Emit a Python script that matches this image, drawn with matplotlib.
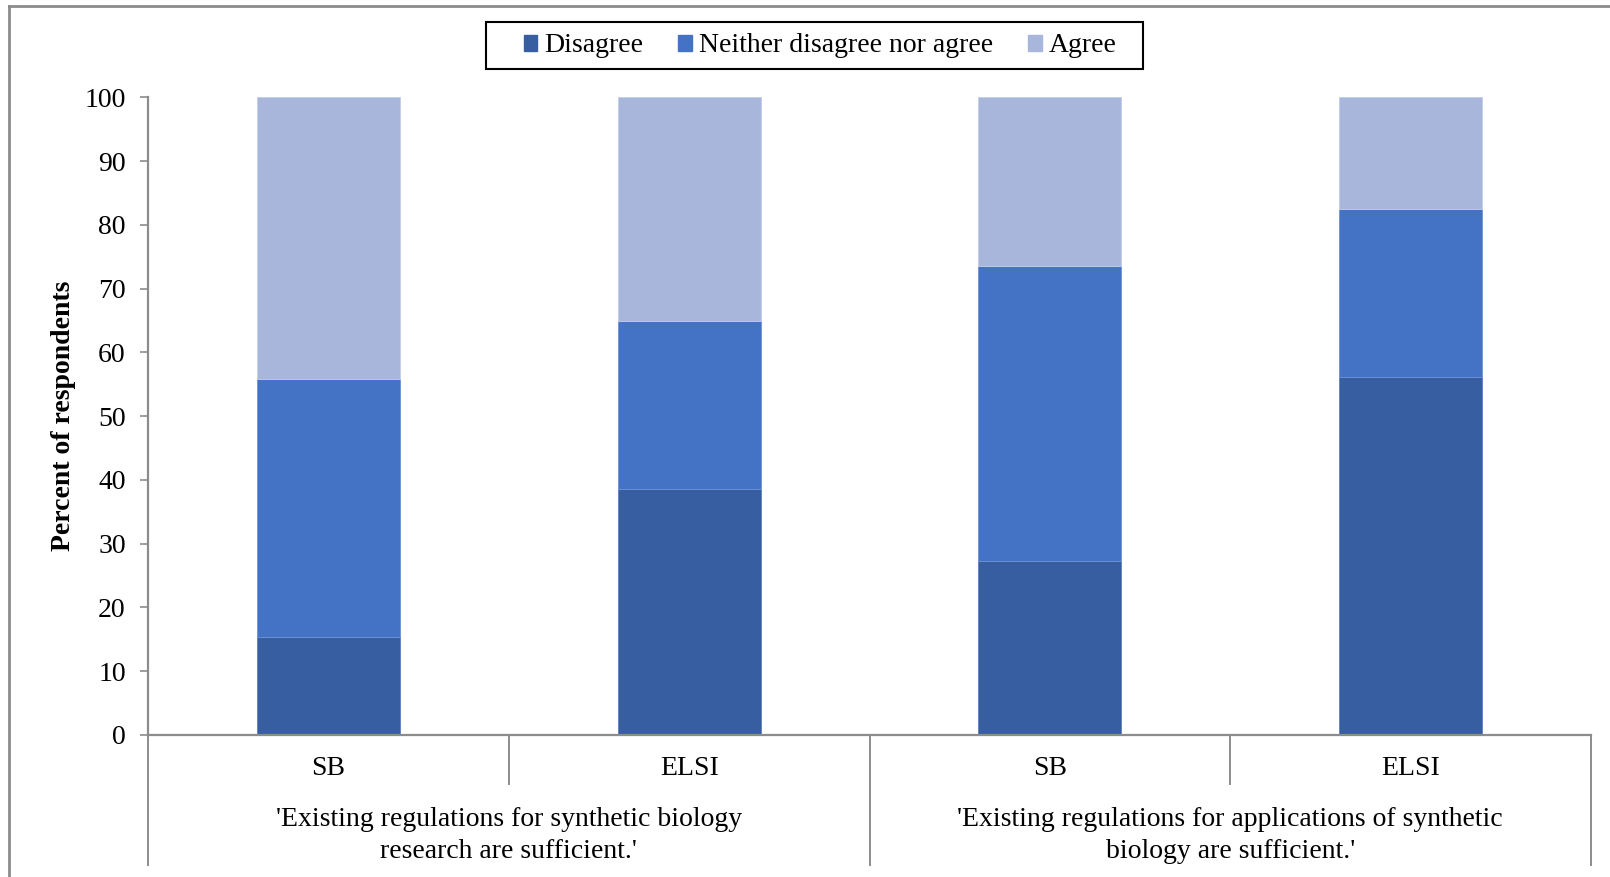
import matplotlib.pyplot as plt
from matplotlib.lines import Line2D
from matplotlib.patches import Patch, Rectangle
import matplotlib.transforms as mtransforms

plt.rcParams['font.family'] = ['Liberation Serif', 'DejaVu Serif']

# Data
bars = ['SB', 'ELSI', 'SB', 'ELSI']
groups = ["'Existing regulations for synthetic biology\nresearch are sufficient.'",
          "'Existing regulations for applications of synthetic\nbiology are sufficient.'"]
disagree = [15.4, 38.6, 27.3, 56.1]
neither = [40.4, 26.3, 46.3, 26.4]
agree = [44.2, 35.1, 26.4, 17.5]

c_dis = '#365EA1'
c_nei = '#4472C4'
c_agr = '#A9B6DB'
grey = '#8c8c8c'
fs = 20

fig = plt.figure(figsize=(16.1, 8.77), dpi=100)
ax = fig.add_axes([148 / 1610, 1 - 735 / 877, (1591 - 148) / 1610, (735 - 97.3) / 877])

x = list(range(len(bars)))
w = 0.397
bottom2 = [d + n for d, n in zip(disagree, neither)]
ax.bar(x, disagree, w, color=c_dis, edgecolor='#5b7fc0', linewidth=0.6, label='Disagree')
ax.bar(x, neither, w, bottom=disagree, color=c_nei, edgecolor='#6e92d6', linewidth=0.6,
       label='Neither disagree nor agree')
ax.bar(x, agree, w, bottom=bottom2, color=c_agr, edgecolor='#c3cde8', linewidth=0.6, label='Agree')

ax.set_xlim(-0.5, len(bars) - 0.5)
ax.set_ylim(0, 100)
ax.set_yticks(range(0, 101, 10))
ax.tick_params(axis='y', labelsize=fs, length=6, width=1.2, color=grey, pad=10)
ax.set_xticks([])
for s in ['top', 'right']:
    ax.spines[s].set_visible(False)
for s in ['left', 'bottom']:
    ax.spines[s].set_color(grey)
    ax.spines[s].set_linewidth(1.6)

ax.set_ylabel('Percent of respondents', fontsize=fs, fontweight='bold')
ax.yaxis.set_label_coords(-0.050, 0.5)

# category table under the axis
trans = mtransforms.blended_transform_factory(ax.transData, ax.transAxes)
short_y = -0.0768
long_y = -0.204
n = len(bars)
for i in range(n + 1):
    xv = i - 0.5
    y1 = long_y if i % 2 == 0 else short_y
    ax.add_line(Line2D([xv, xv], [0, y1], transform=trans, color=grey, lw=1.4, clip_on=False))
for i, lab in enumerate(bars):
    ax.text(i, -0.052, lab, transform=trans, ha='center', va='center', fontsize=fs)
for g, lab in enumerate(groups):
    ax.text(2 * g + 0.5, -0.158, lab, transform=trans, ha='center', va='center',
            fontsize=fs, linespacing=1.38)

# legend (frame drawn separately)
handles = [Patch(color=c_dis), Patch(color=c_nei), Patch(color=c_agr)]
leg = fig.legend(handles, ['Disagree', 'Neither disagree nor agree', 'Agree'],
                 loc='center', bbox_to_anchor=(820 / 1610, 1 - 46 / 877), ncol=3,
                 fontsize=fs, frameon=False, handlelength=0.5,
                 handleheight=0.5, handletextpad=0.25, columnspacing=1.25,
                 borderpad=0.3)
fig.add_artist(Rectangle((486 / 1610, 1 - 69 / 877), (1143 - 486) / 1610, 47 / 877,
                         transform=fig.transFigure, fill=False, edgecolor='black', lw=1.5))

# outer frame (top and left edges visible)
fig.add_artist(Line2D([9 / 1610, 1], [1 - 6 / 877, 1 - 6 / 877], transform=fig.transFigure,
                      color=grey, lw=2))
fig.add_artist(Line2D([9 / 1610, 9 / 1610], [0, 1 - 6 / 877], transform=fig.transFigure,
                      color=grey, lw=2))

fig.savefig('out.png', dpi=100)
